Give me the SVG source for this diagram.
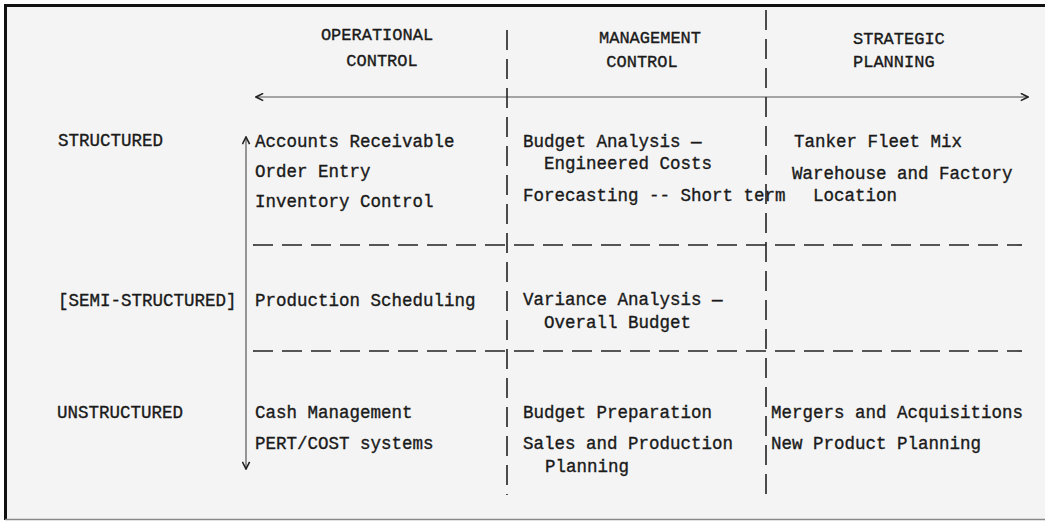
<svg xmlns="http://www.w3.org/2000/svg" width="1045" height="521" viewBox="0 0 1045 521">
<defs>
<style>
.t{font-family:"Liberation Mono","DejaVu Sans Mono",monospace;font-size:17.5px;fill:#1a1a1a;stroke:#1a1a1a;stroke-width:0.35}
.h{font-family:"Liberation Mono","DejaVu Sans Mono",monospace;font-size:17px;fill:#1a1a1a;stroke:#1a1a1a;stroke-width:0.35}
.dash{stroke:#222;stroke-width:1.6;stroke-dasharray:20 9;fill:none}
.axis{stroke:#555;stroke-width:1.2;fill:none}
</style>
<marker id="ah" viewBox="0 0 10 10" refX="9" refY="5" markerWidth="9" markerHeight="9" markerUnits="userSpaceOnUse" orient="auto-start-reverse">
<path d="M1,1 L9,5 L1,9" fill="none" stroke="#222" stroke-width="1.8"/>
</marker>
</defs>
<rect x="0" y="0" width="1045" height="521" fill="#ffffff"/>
<rect x="6" y="6" width="1039" height="513" fill="#f4f4f4"/>
<line x1="4" y1="5.5" x2="1045" y2="5.5" stroke="#111" stroke-width="3"/>
<line x1="5.5" y1="4" x2="5.5" y2="520" stroke="#111" stroke-width="3"/>
<line x1="5" y1="519.5" x2="1045" y2="519.5" stroke="#888" stroke-width="1.5"/>

<g id="connectors">
<line class="axis" x1="256" y1="97" x2="1028" y2="97" marker-start="url(#ah)" marker-end="url(#ah)"/>
<line class="axis" x1="246" y1="137" x2="246" y2="469" marker-start="url(#ah)" marker-end="url(#ah)"/>
<line class="dash" x1="507" y1="30" x2="507" y2="495"/>
<line class="dash" x1="766" y1="10" x2="766" y2="495"/>
<line class="dash" x1="253" y1="245" x2="1022" y2="245"/>
<line class="dash" x1="253" y1="351" x2="1022" y2="351"/>
</g>

<g id="header-operational">
<text class="h" x="377" y="40" text-anchor="middle">OPERATIONAL</text>
<text class="h" x="382" y="66" text-anchor="middle">CONTROL</text>
</g>
<g id="header-management">
<text class="h" x="650" y="43" text-anchor="middle">MANAGEMENT</text>
<text class="h" x="642" y="67" text-anchor="middle">CONTROL</text>
</g>
<g id="header-strategic">
<text class="h" x="853" y="44">STRATEGIC</text>
<text class="h" x="853" y="67">PLANNING</text>
</g>

<g id="row-structured">
<text class="t" x="58" y="146">STRUCTURED</text>
</g>
<g id="row-semi-structured">
<text class="t" x="58" y="306">[SEMI-STRUCTURED]</text>
</g>
<g id="row-unstructured">
<text class="t" x="57" y="418">UNSTRUCTURED</text>
</g>

<g id="cell-structured-operational">
<text class="t" x="255" y="147">Accounts Receivable</text>
<text class="t" x="255" y="177">Order Entry</text>
<text class="t" x="255" y="207">Inventory Control</text>
</g>
<g id="cell-structured-management">
<text class="t" x="523" y="147">Budget Analysis —</text>
<text class="t" x="544" y="169">Engineered Costs</text>
<text class="t" x="523" y="201">Forecasting -- Short term</text>
</g>
<g id="cell-structured-strategic">
<text class="t" x="794" y="147">Tanker Fleet Mix</text>
<text class="t" x="792" y="179">Warehouse and Factory</text>
<text class="t" x="813" y="201">Location</text>
</g>

<g id="cell-semi-operational">
<text class="t" x="255" y="306">Production Scheduling</text>
</g>
<g id="cell-semi-management">
<text class="t" x="523" y="305">Variance Analysis —</text>
<text class="t" x="544" y="328">Overall Budget</text>
</g>

<g id="cell-unstructured-operational">
<text class="t" x="255" y="418">Cash Management</text>
<text class="t" x="255" y="449">PERT/COST systems</text>
</g>
<g id="cell-unstructured-management">
<text class="t" x="523" y="418">Budget Preparation</text>
<text class="t" x="523" y="449">Sales and Production</text>
<text class="t" x="545" y="472">Planning</text>
</g>
<g id="cell-unstructured-strategic">
<text class="t" x="771" y="418">Mergers and Acquisitions</text>
<text class="t" x="771" y="449">New Product Planning</text>
</g>
</svg>
